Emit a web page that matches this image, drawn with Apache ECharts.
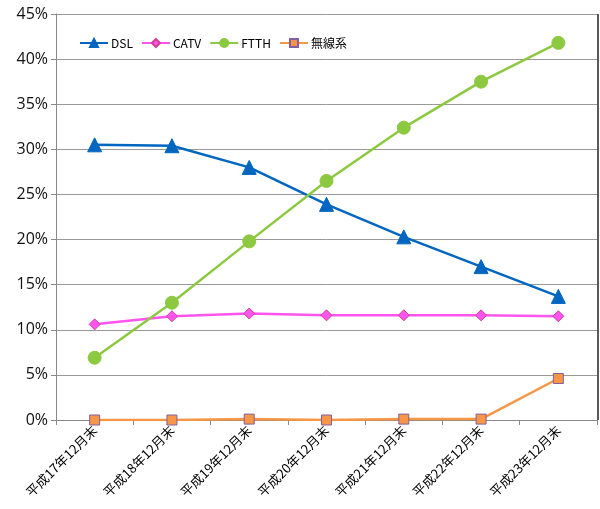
<!DOCTYPE html>
<html><head><meta charset="utf-8">
<script src="https://cdn.jsdelivr.net/npm/echarts@6/dist/echarts.min.js"></script>
<style>html,body{margin:0;padding:0;background:#fff}#c{width:600px;height:509px}</style>
</head><body><div id="c"></div>
<script>
const categories = ['平成17年12月末','平成18年12月末','平成19年12月末','平成20年12月末','平成21年12月末','平成22年12月末','平成23年12月末'];
const dsl = [30.5, 30.4, 28.0, 23.9, 20.3, 17.0, 13.7];
const catv = [10.6, 11.5, 11.8, 11.6, 11.6, 11.6, 11.5];
const ftth = [6.9, 13.0, 19.8, 26.5, 32.4, 37.5, 41.8];
const wireless = [0.0, 0.0, 0.1, 0.0, 0.1, 0.1, 4.6];
const yTicks = [0,5,10,15,20,25,30,35,40,45];

const font = "'Noto Sans CJK JP', 'DejaVu Sans', sans-serif";
const chart = echarts.init(document.getElementById('c'));
function s(name, data, color, symbol, size, border) {
  return {name, type:'line', data, symbol, symbolSize:size, color,
    lineStyle:{width:2.5,color}, itemStyle:{color, borderColor:border||color, borderWidth:1}};
}
chart.setOption({
  animation:false,
  grid:{left:56,right:3,top:14,bottom:89,containLabel:false,show:true,borderColor:'transparent'},
  graphic:[{type:'line',shape:{x1:598,y1:14,x2:598,y2:420},style:{stroke:'#222',lineWidth:1.5}}],
  legend:{left:74,top:32,itemGap:8,itemWidth:28,itemHeight:10,
    textStyle:{fontFamily:font,fontSize:12,color:'#000',padding:[0,0,0,-2]},
    data:['DSL','CATV','FTTH','無線系']},
  xAxis:{type:'category',data:categories,boundaryGap:true,
    axisLine:{lineStyle:{color:'#888'}},
    axisTick:{show:true,lineStyle:{color:'#888'},length:5,interval:0},
    axisLabel:{rotate:45,interval:0,fontFamily:font,fontSize:13,color:'#000',margin:8},
    splitLine:{show:false}},
  yAxis:{type:'value',min:0,max:45,interval:5,
    axisLine:{show:true,lineStyle:{color:'#888'}},
    axisTick:{show:true,length:5,lineStyle:{color:'#888'}},
    axisLabel:{formatter:v=>yTicks.includes(v)?v+'%':'',fontFamily:"'Open Sans', 'DejaVu Sans', sans-serif",fontSize:16,color:'#111',margin:8},
    splitLine:{lineStyle:{color:'#999',width:1}}},
  series:[
    s('DSL', dsl, '#0066c0', 'triangle', 14),
    s('CATV', catv, '#ff55ee', 'diamond', 11, '#d04090'),
    s('FTTH', ftth, '#8cc840', 'circle', 13),
    s('無線系', wireless, '#f79646', 'rect', 10, '#8060a0')
  ]
});
</script></body></html>
